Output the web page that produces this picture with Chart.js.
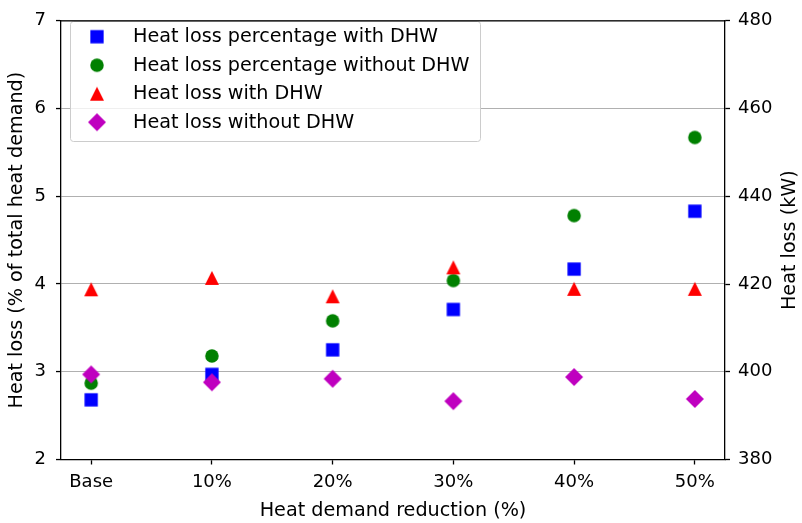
<!DOCTYPE html>
<html>
<head>
<meta charset="utf-8">
<script src="https://cdn.jsdelivr.net/npm/chart.js@4/dist/chart.umd.min.js"></script>
<style>
  html, body { margin:0; padding:0; background:#fff; }
  #wrap { width:802px; height:523px; }
</style>
</head>
<body>
<div id="wrap"><canvas id="chart" width="802" height="523"></canvas></div>
<script>
// data
const categories = ['Base', '10%', '20%', '30%', '40%', '50%'];
const pctWithDHW = [2.68, 2.97, 3.25, 3.71, 4.17, 4.83];        // left axis
const pctWithoutDHW = [2.87, 3.18, 3.58, 4.04, 4.78, 5.67];     // left axis
const lossWithDHW = [418.8, 421.4, 417.2, 423.8, 418.9, 418.9]; // right axis (kW)
const lossWithoutDHW = [399.4, 397.6, 398.4, 393.3, 398.8, 393.8];
const leftTicks = [2, 3, 4, 5, 6, 7];
const rightTicks = [380, 400, 420, 440, 460, 480];

const FONT = "'DejaVu Sans', 'Liberation Sans', sans-serif";

// marker images so the shapes sit centred like matplotlib's
function marker(shape, color, size){
  const c = document.createElement('canvas');
  const s = Math.ceil(size) + 2;
  c.width = s; c.height = s;
  const g = c.getContext('2d');
  const m = s / 2, h = size / 2;
  g.fillStyle = color;
  g.beginPath();
  if(shape === 'square'){ g.rect(m - h, m - h, size, size); }
  else if(shape === 'circle'){ g.arc(m, m, h, 0, Math.PI * 2); }
  else if(shape === 'triangle'){ g.moveTo(m, m - h); g.lineTo(m + h, m + h); g.lineTo(m - h, m + h); g.closePath(); }
  else if(shape === 'diamond'){ g.moveTo(m, m - h); g.lineTo(m + h, m); g.lineTo(m, m + h); g.lineTo(m - h, m); g.closePath(); }
  g.fill();
  return c;
}

const mkBlue = marker('square', '#0000ff', 13.3);
const mkGreen = marker('circle', '#008000', 13.5);
const mkRed = marker('triangle', '#ff0000', 14);
const mkPurple = marker('diamond', '#bf00bf', 18);

const toPts = arr => arr.map((v, i) => ({ x: i, y: v }));

// legend drawn inside the plot, matplotlib style
const innerLegend = {
  id: 'innerLegend',
  afterDraw(chart){
    const ctx = chart.ctx;
    const x = 70.5, y = 21.5, w = 410, h = 120, r = 3;
    ctx.save();
    ctx.beginPath();
    ctx.moveTo(x + r, y);
    ctx.arcTo(x + w, y, x + w, y + h, r);
    ctx.arcTo(x + w, y + h, x, y + h, r);
    ctx.arcTo(x, y + h, x, y, r);
    ctx.arcTo(x, y, x + w, y, r);
    ctx.closePath();
    ctx.fillStyle = 'rgba(255,255,255,0.8)';
    ctx.fill();
    ctx.strokeStyle = '#cccccc';
    ctx.lineWidth = 1;
    ctx.stroke();
    ctx.font = '19.2px ' + FONT;
    ctx.fillStyle = '#000';
    ctx.textBaseline = 'middle';
    ctx.textAlign = 'left';
    chart.data.datasets.forEach((ds, i) => {
      const ry = 36.7 + i * 28.5;
      const img = ds.pointStyle;
      ctx.drawImage(img, 97 - img.width / 2, ry - img.height / 2);
      ctx.fillText(ds.label, 133, ry + 0.5);
    });
    ctx.restore();
  }
};

// top spine + right axis title reading bottom-to-top
const extras = {
  id: 'extras',
  afterDraw(chart){
    const { ctx, chartArea } = chart;
    ctx.save();
    ctx.strokeStyle = '#000';
    ctx.lineWidth = 1.3;
    ctx.beginPath();
    ctx.moveTo(chartArea.left - 0.6, chartArea.top);
    ctx.lineTo(chartArea.right + 0.6, chartArea.top);
    ctx.stroke();
    ctx.translate(790.5, (chartArea.top + chartArea.bottom) / 2);
    ctx.rotate(-Math.PI / 2);
    ctx.font = '19.2px ' + FONT;
    ctx.fillStyle = '#000';
    ctx.textAlign = 'center';
    ctx.textBaseline = 'middle';
    ctx.fillText('Heat loss (kW)', 0, 0);
    ctx.restore();
  }
};

const tickFont = { family: FONT, size: 18 };
const titleFont = { family: FONT, size: 19.2 };

new Chart(document.getElementById('chart'), {
  type: 'scatter',
  data: {
    datasets: [
      { label: 'Heat loss percentage with DHW', data: toPts(pctWithDHW), yAxisID: 'y', pointStyle: mkBlue, pointRadius: 7, order: 4 },
      { label: 'Heat loss percentage without DHW', data: toPts(pctWithoutDHW), yAxisID: 'y', pointStyle: mkGreen, pointRadius: 7, order: 3 },
      { label: 'Heat loss with DHW', data: toPts(lossWithDHW), yAxisID: 'y2', pointStyle: mkRed, pointRadius: 7, order: 2 },
      { label: 'Heat loss without DHW', data: toPts(lossWithoutDHW), yAxisID: 'y2', pointStyle: mkPurple, pointRadius: 7, order: 1 }
    ]
  },
  options: {
    responsive: false,
    animation: false,
    devicePixelRatio: 1,
    events: [],
    layout: { padding: { top: 12, left: 0, right: 0, bottom: 0 } },
    plugins: { legend: { display: false }, tooltip: { enabled: false } },
    scales: {
      x: {
        type: 'linear',
        min: -0.25, max: 5.25,
        afterBuildTicks: s => { s.ticks = categories.map((c, i) => ({ value: i })); },
        afterFit: s => { s.height = 63.5; },
        ticks: { callback: v => categories[v] ?? '', font: tickFont, color: '#000', padding: 7, maxRotation: 0, autoSkip: false },
        grid: { drawOnChartArea: false, tickLength: 5, tickColor: '#000', tickWidth: 1.3 },
        border: { color: '#000', width: 1.3 },
        title: { display: true, text: 'Heat demand reduction (%)', font: titleFont, color: '#000', padding: { top: 3.5, bottom: 0 } }
      },
      y: {
        position: 'left',
        min: 2, max: 7,
        afterBuildTicks: s => { s.ticks = leftTicks.map(v => ({ value: v })); },
        afterFit: s => { s.width = 61; },
        ticks: { font: tickFont, color: '#000', padding: 10 },
        grid: { color: '#b0b0b0', lineWidth: 1.1, tickLength: 5, tickColor: '#000', tickWidth: 1.3 },
        border: { color: '#000', width: 1.3 },
        title: { display: true, text: 'Heat loss (% of total heat demand)', font: titleFont, color: '#000', padding: { top: 5.5, bottom: 0 } }
      },
      y2: {
        position: 'right',
        min: 380, max: 480,
        afterBuildTicks: s => { s.ticks = rightTicks.map(v => ({ value: v })); },
        afterFit: s => { s.width = 77; },
        ticks: { font: tickFont, color: '#000', padding: 8 },
        grid: { drawOnChartArea: false, tickLength: 5, tickColor: '#000', tickWidth: 1.3 },
        border: { color: '#000', width: 1.3 },
        title: { display: false }
      }
    }
  },
  plugins: [innerLegend, extras]
});
</script>
</body>
</html>
